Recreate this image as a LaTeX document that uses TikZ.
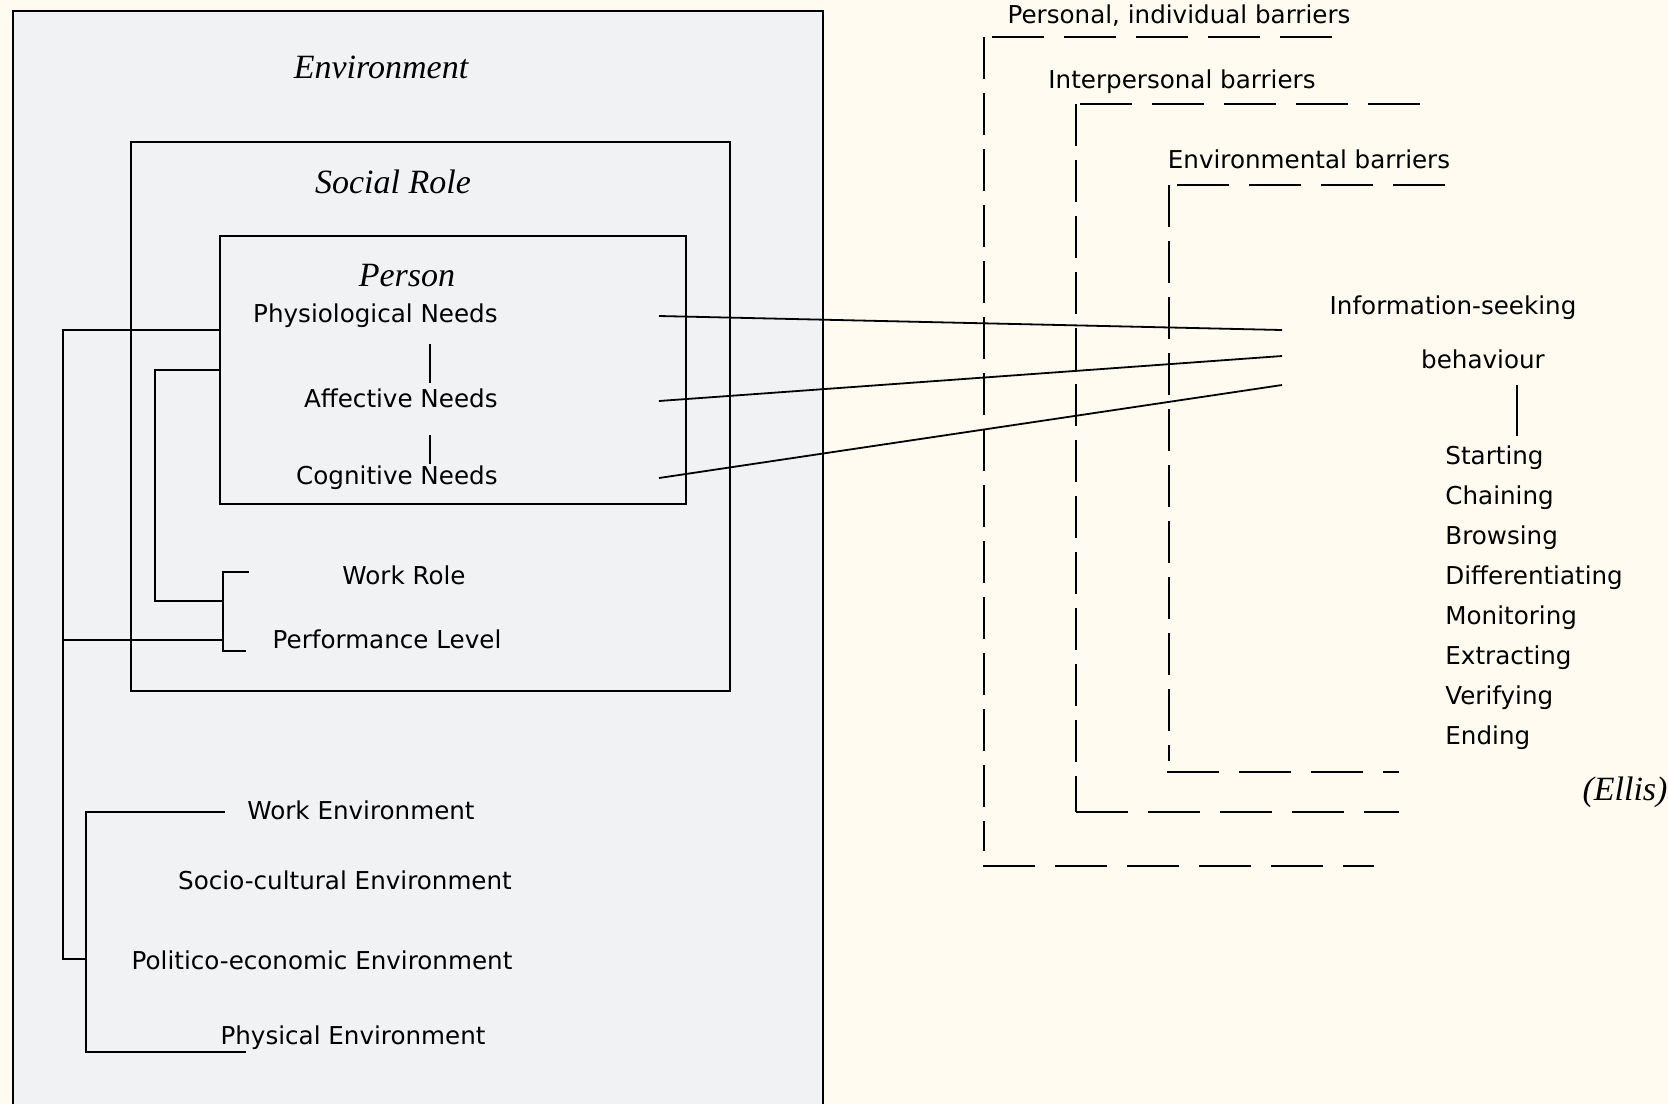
\documentclass[tikz,border=0pt]{standalone}
\usepackage{fontspec}
\setmainfont{Liberation Serif}
\setsansfont{DejaVu Sans}
\definecolor{paper}{HTML}{FFFBF0}
\definecolor{panel}{HTML}{F1F2F3}
\begin{document}
\begin{tikzpicture}[x=0.5pt, y=-0.5pt,
    txt/.style={font=\sffamily\fontsize{12.3}{15}\selectfont, inner sep=0pt, text height=9pt, text depth=2.5pt},
    head/.style={font=\itshape\fontsize{17}{20}\selectfont, inner sep=0pt},
    frame/.style={draw, line width=1pt},
    wire/.style={line width=0.9pt},
    hbar/.style={line width=0.9pt, dash pattern=on 26pt off 10pt},
    vbar/.style={line width=0.9pt, dash pattern=on 21pt off 7pt}]
  \fill[paper] (0,0) rectangle (1668,1104);
  \useasboundingbox (0,0) rectangle (1668,1104);

  \path[fill=panel, draw=black, line width=1pt] (13,1104) -- (13,11) -- (823,11) -- (823,1104);
  \node[frame, minimum width=299.5pt, minimum height=274.5pt] (role) at (430.5,416.5) {};
  \node[frame, minimum width=233pt, minimum height=134pt] (person) at (453,370) {};

  \node[head] (envT) at (381,67) {Environment};
  \node[head] (roleT) at (393,182) {Social Role};
  \node[head] (personT) at (407,276) {Person};

  \node[txt, anchor=east] (phys) at (498,316) {Physiological Needs};
  \node[txt, anchor=east] (aff) at (498,401) {Affective Needs};
  \node[txt, anchor=east] (cog) at (498,478) {Cognitive Needs};
  \draw[wire] ([xshift=-34pt]phys.east) ++(0,28) -- ++(0,39);
  \draw[wire] ([xshift=-34pt]aff.east) ++(0,34) -- ++(0,29);

  \node[txt] (work) at (404,578) {Work Role};
  \node[txt] (perf) at (387,642) {Performance Level};

  \node[txt] (workenv) at (361,813) {Work Environment};
  \node[txt] (socenv) at (345,883) {Socio-cultural Environment};
  \node[txt] (polenv) at (322,963) {Politico-economic Environment};
  \node[txt] (physenv) at (353,1038) {Physical Environment};

  \coordinate (wrTop) at (249,572);
  \coordinate (plBot) at (246,651);
  \coordinate (roleBr) at (223,601);
  \coordinate (spineA) at (63,640);
  \coordinate (spineB) at (155,601);
  \coordinate (envTop) at (225,812);
  \coordinate (envBot) at (246,1052);
  \coordinate (envBr) at (86,959);

  \draw[wire] (wrTop) -| (roleBr) |- (plBot);
  \draw[wire] (person.west) -| (spineB) -- (roleBr);
  \draw[wire] ([yshift=20pt]person.west) -| (spineA) |- (envBr);
  \draw[wire] (spineA) -- (spineA -| roleBr);
  \draw[wire] (envTop) -| (envBr) |- (envBot);

  \node[txt] (pbar) at (1179,17) {Personal, individual barriers};
  \node[txt] (ibar) at (1182,82) {Interpersonal barriers};
  \node[txt] (ebar) at (1309,162) {Environmental barriers};
  \draw[vbar] (984,37) -- (984,851);
  \draw[hbar] (992,37) -- (1333,37);
  \draw[hbar] (983,866) -- (1374,866);
  \draw[vbar] (1076,104) -- (1076,812);
  \draw[hbar] (1080,104) -- (1425,104);
  \draw[hbar] (1076,812) -- (1399,812);
  \draw[vbar] (1169,185) -- (1169,761);
  \draw[hbar] (1177,185) -- (1446,185);
  \draw[hbar] (1167,772) -- (1399,772);

  \node[txt] (ise) at (1453,308) {Information-seeking};
  \node[txt] (beh) at (1483,362) {behaviour};
  \draw[wire] ([xshift=17pt]beh.south) ++(0,11) -- ++(0,51);
  \foreach \stage [count=\i] in {Starting,Chaining,Browsing,Differentiating,Monitoring,Extracting,Verifying,Ending}
    \node[txt, anchor=west] (act\i) at (1445,418+40*\i) {\stage};
  \node[head] (ellis) at (1625,792) {(Ellis)};

  \coordinate (in1) at (1282,330);
  \coordinate (in2) at (1282,356);
  \coordinate (in3) at (1282,385);
  \draw[wire] (phys.east) ++(161,0) -- (in1);
  \draw[wire] (aff.east) ++(161,0) -- (in2);
  \draw[wire] (cog.east) ++(161,0) -- (in3);
\end{tikzpicture}
\end{document}
